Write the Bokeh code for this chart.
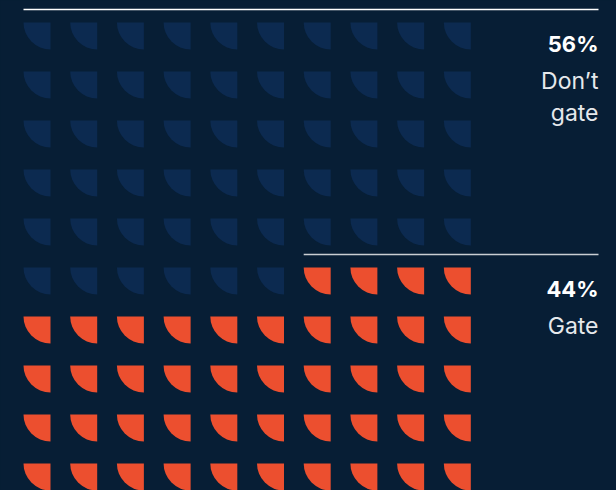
import numpy as np
from bokeh.plotting import figure
from bokeh.models import Range1d, ColumnDataSource, GlobalInlineStyleSheet
from bokeh.core.properties import value
from bokeh.embed import file_html
from bokeh.resources import INLINE

# ---- data ----
categories = ["Don\u2019t\ngate", "Gate"]
percents = [56, 44]
series_colors = ["#0c2a50", "#ec4f2f"]

# ---- layout ----
W, H = 616, 490
BG = "#071e35"
n_cols, n_rows = 10, 10
left0, pitch_x = 23.0, 46.7
top0, pitch_y = 22.0, 49.0
size = 27
right_edge = 598
FONT = "Inter"

p = figure(width=W, height=H, output_backend="svg", toolbar_location=None,
           x_range=Range1d(0, W), y_range=Range1d(0, H), min_border=0)
p.axis.visible = False
p.grid.visible = False
p.outline_line_color = None
p.background_fill_color = BG
p.border_fill_color = BG
p.stylesheets = [GlobalInlineStyleSheet(
    css="html, body { margin: 0 !important; padding: 0; background: %s; }" % BG)]

# waffle cells
xs, ys, cs = [], [], []
cum = np.cumsum([0] + percents)
for ci, pct in enumerate(percents):
    for k in range(cum[ci], cum[ci] + pct):
        r, c = divmod(k, n_cols)
        xs.append(left0 + c * pitch_x + size)
        ys.append(H - (top0 + r * pitch_y))
        cs.append(series_colors[ci])
src = ColumnDataSource(dict(x=xs, y=ys, color=cs))
p.wedge(x="x", y="y", radius=size, radius_units="screen",
        start_angle=np.pi, end_angle=1.5 * np.pi,
        fill_color="color", line_color=None, source=src)

# category separators and labels
line_colors = ["#ffffff", "#c9ced3"]
for ci, (cat, pct) in enumerate(zip(categories, percents)):
    r, c = divmod(int(cum[ci]), n_cols)
    top_px = top0 + r * pitch_y
    xstart = left0 + c * pitch_x
    yline = H - (top_px - 13)
    p.segment(x0=[xstart], y0=[yline], x1=[right_edge], y1=[yline],
              line_color=line_colors[ci], line_width=1.6)
    p.text(x=[right_edge], y=[H - (top_px + 21.5)], text=[f"{pct}%"],
           text_align="right", text_baseline="alphabetic",
           text_font=value(FONT), text_font_style="bold",
           text_font_size="22px", text_color="#ffffff")
    for li, line in enumerate(cat.split("\n")):
        p.text(x=[right_edge], y=[H - (top_px + 58.5 + li * 32)], text=[line],
               text_align="right", text_baseline="alphabetic",
               text_font=value(FONT), text_font_size="23px",
               text_color="#e6e9ec")

open("out.html", "w").write(file_html(p, INLINE))
